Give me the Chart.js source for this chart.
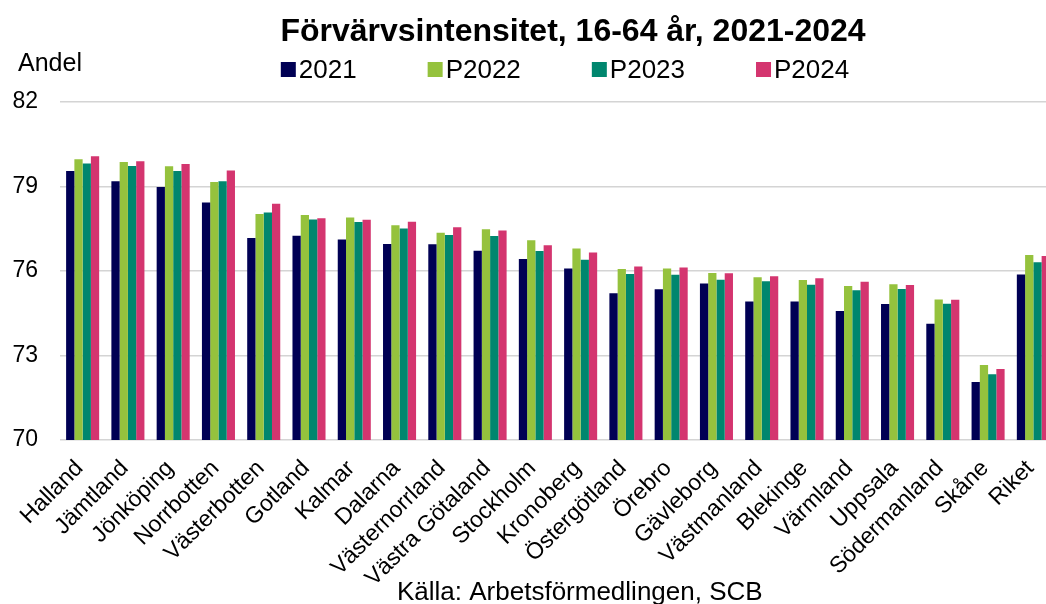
<!DOCTYPE html>
<html>
<head>
<meta charset="utf-8">
<script src="https://cdn.jsdelivr.net/npm/chart.js@4.4.1/dist/chart.umd.min.js"></script>
<style>
  html, body { margin: 0; padding: 0; overflow: hidden; background: #fff; }
  #wrap { width: 1144px; height: 620px; }
</style>
</head>
<body>
<div id="wrap"><canvas id="lanChart" width="1144" height="620"></canvas></div>
<script>
const lan = ['Halland', 'Jämtland', 'Jönköping', 'Norrbotten', 'Västerbotten', 'Gotland',
             'Kalmar', 'Dalarna', 'Västernorrland', 'Västra Götaland', 'Stockholm', 'Kronoberg',
             'Östergötland', 'Örebro', 'Gävleborg', 'Västmanland', 'Blekinge', 'Värmland',
             'Uppsala', 'Södermanland', 'Skåne', 'Riket'];

const v2021 = [79.55, 79.19, 78.98, 78.43, 77.17, 77.25, 77.12, 76.96, 76.95, 76.72, 76.43,
               76.09, 75.21, 75.35, 75.56, 74.92, 74.92, 74.58, 74.83, 74.13, 72.06, 75.88];
const p2022 = [79.97, 79.87, 79.72, 79.16, 78.02, 77.99, 77.90, 77.62, 77.36, 77.48, 77.09,
               76.80, 76.07, 76.09, 75.93, 75.78, 75.68, 75.47, 75.53, 74.99, 72.66, 76.57];
const p2023 = [79.82, 79.73, 79.55, 79.19, 78.08, 77.83, 77.74, 77.51, 77.28, 77.24, 76.71,
               76.40, 75.89, 75.87, 75.69, 75.64, 75.51, 75.32, 75.36, 74.84, 72.33, 76.31];
const p2024 = [80.07, 79.90, 79.80, 79.57, 78.39, 77.87, 77.82, 77.75, 77.55, 77.44, 76.91,
               76.66, 76.16, 76.12, 75.92, 75.81, 75.74, 75.62, 75.50, 74.98, 72.52, 76.53];

const seriesNames = ['2021', 'P2022', 'P2023', 'P2024'];
const yTicks = [70, 73, 76, 79, 82];

const FONT = "'Liberation Sans', Arial, sans-serif";
Chart.defaults.font.family = FONT;
Chart.defaults.color = '#000';

// title, legend, y-axis label and source line drawn as text on the canvas
// (the title sits centred on the full figure, not on the plot box)
const extraText = {
    id: 'extraText',
    afterDraw(chart) {
        const c = chart.ctx;
        c.save();
        c.fillStyle = '#000';
        c.textBaseline = 'alphabetic';

        c.textAlign = 'center';
        c.font = 'bold 32px ' + FONT;
        c.fillText('Förvärvsintensitet, 16-64 år, 2021-2024', 573, 41);

        c.textAlign = 'left';
        c.font = '25px ' + FONT;
        c.fillText('Andel', 18, 71);

        // legend
        c.font = '26px ' + FONT;
        const sets = chart.data.datasets;
        const gap = 71, box = 15;
        let total = 0;
        sets.forEach((ds, i) => {
            total += box + 3 + c.measureText(ds.label).width + (i < sets.length - 1 ? gap : 0);
        });
        let x = 565 - total / 2;
        sets.forEach(ds => {
            c.fillStyle = ds.backgroundColor;
            c.fillRect(x, 62, box, box);
            c.fillStyle = '#000';
            c.fillText(ds.label, x + box + 3, 78);
            x += box + 3 + c.measureText(ds.label).width + gap;
        });

        c.font = '26px ' + FONT;
        c.fillText('Källa: Arbetsförmedlingen, SCB', 397, 600);
        c.restore();
    }
};

const colors = ['#000054', '#95c23d', '#00866e', '#d4356f'];
const values = [v2021, p2022, p2023, p2024];

const data = {
    labels: lan,
    datasets: seriesNames.map((name, i) => ({
        label: name,
        data: values[i],
        backgroundColor: colors[i],
        borderWidth: 0,
        categoryPercentage: 0.73,
        barPercentage: 1.0
    }))
};

new Chart(document.getElementById('lanChart'), {
    type: 'bar',
    data: data,
    options: {
        responsive: false,
        devicePixelRatio: 1,
        animation: false,
        layout: { padding: { top: 102, right: 88, bottom: 0, left: 0 } },
        plugins: {
            legend: { display: false },
            tooltip: { enabled: false },
            title: { display: false }
        },
        scales: {
            x: {
                grid: { display: false, drawTicks: false },
                border: { display: false },
                ticks: {
                    font: { size: 23 },
                    color: '#000',
                    minRotation: 45,
                    maxRotation: 45,
                    autoSkip: false,
                    padding: 15,
                    labelOffset: -3
                },
                afterFit(scale) { scale.height = 180; }
            },
            y: {
                min: 70,
                max: 82,
                afterBuildTicks(scale) { scale.ticks = yTicks.map(v => ({ value: v })); },
                grid: { color: '#d4d4d4', lineWidth: 1.5, drawTicks: false },
                border: { display: false },
                ticks: { font: { size: 23 }, color: '#000', padding: 22 },
                afterFit(scale) { scale.width = 60; }
            }
        }
    },
    plugins: [extraText]
});
</script>
</body>
</html>
